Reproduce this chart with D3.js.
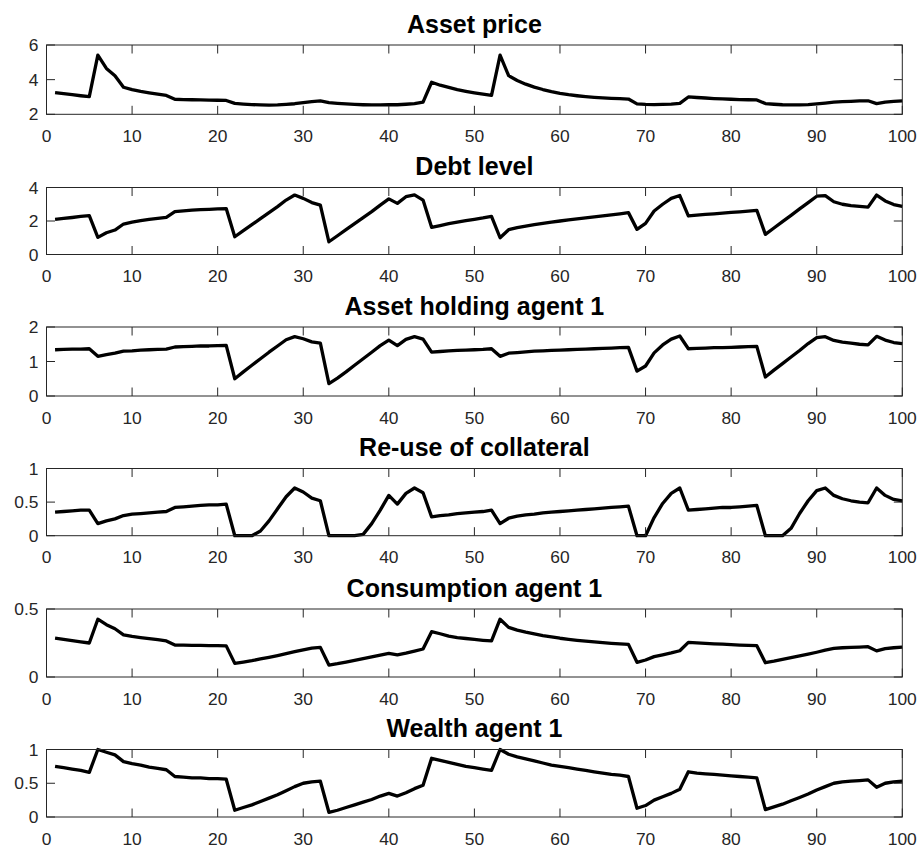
<!DOCTYPE html>
<html><head><meta charset="utf-8">
<script src="https://cdn.jsdelivr.net/npm/d3@7"></script>
<style>body{margin:0;background:#fff}</style>
</head><body>
<svg id="c" width="921" height="848"></svg>
<script>
const periods = d3.range(1, 101);
const titles = ["Asset price", "Debt level", "Asset holding agent 1", "Re-use of collateral", "Consumption agent 1", "Wealth agent 1"];
const xTicks = [0,10,20,30,40,50,60,70,80,90,100];
const yDomains = [[2,6],[0,4],[0,2],[0,1],[0,0.5],[0,1]];
const yTicks = [[2,4,6],[0,2,4],[0,1,2],[0,0.5,1],[0,0.5],[0,0.5,1]];

const assetPrice = [3.25,3.19,3.13,3.07,3.02,5.42,4.65,4.23,3.56,3.42,
3.32,3.24,3.16,3.09,2.87,2.85,2.84,2.83,2.82,2.81,
2.80,2.63,2.59,2.56,2.54,2.53,2.54,2.57,2.61,2.67,
2.73,2.77,2.67,2.63,2.60,2.57,2.55,2.54,2.54,2.56,
2.55,2.58,2.62,2.70,3.85,3.68,3.55,3.43,3.33,3.24,
3.16,3.09,5.42,4.23,3.95,3.74,3.57,3.43,3.31,3.21,
3.13,3.07,3.02,2.98,2.95,2.92,2.90,2.88,2.60,2.57,
2.56,2.57,2.59,2.63,3.00,2.97,2.94,2.91,2.89,2.87,
2.85,2.84,2.83,2.62,2.58,2.55,2.54,2.54,2.56,2.60,
2.65,2.70,2.73,2.75,2.77,2.78,2.62,2.70,2.74,2.77];

const debtLevel = [2.10,2.16,2.21,2.27,2.32,1.02,1.30,1.46,1.82,1.93,
2.02,2.10,2.16,2.22,2.56,2.61,2.65,2.68,2.70,2.72,
2.74,1.06,1.42,1.78,2.14,2.50,2.86,3.25,3.55,3.35,
3.10,2.95,0.76,1.12,1.48,1.84,2.20,2.56,2.95,3.32,
3.05,3.45,3.56,3.25,1.62,1.73,1.84,1.93,2.02,2.10,
2.18,2.28,1.00,1.48,1.60,1.70,1.78,1.86,1.93,2.00,
2.07,2.13,2.19,2.25,2.31,2.37,2.43,2.50,1.50,1.86,
2.60,3.00,3.35,3.52,2.30,2.35,2.39,2.43,2.47,2.51,
2.55,2.59,2.64,1.20,1.58,1.96,2.34,2.72,3.10,3.48,
3.52,3.15,3.00,2.92,2.87,2.83,3.55,3.20,2.98,2.87];

const assetHolding = [1.34,1.35,1.36,1.36,1.37,1.15,1.20,1.24,1.30,1.31,
1.33,1.34,1.35,1.36,1.42,1.43,1.44,1.45,1.45,1.46,
1.47,0.50,0.70,0.89,1.08,1.27,1.45,1.63,1.72,1.66,
1.57,1.53,0.36,0.52,0.70,0.89,1.08,1.27,1.46,1.62,
1.46,1.64,1.72,1.65,1.27,1.29,1.31,1.32,1.33,1.34,
1.35,1.37,1.15,1.24,1.26,1.28,1.30,1.31,1.32,1.33,
1.34,1.35,1.36,1.37,1.38,1.39,1.40,1.41,0.72,0.87,
1.25,1.48,1.65,1.74,1.37,1.38,1.39,1.40,1.40,1.41,
1.42,1.43,1.44,0.55,0.75,0.94,1.13,1.32,1.52,1.69,
1.72,1.61,1.56,1.53,1.50,1.48,1.73,1.62,1.55,1.52];

const reuse = [0.35,0.36,0.37,0.38,0.38,0.18,0.22,0.25,0.30,0.32,
0.33,0.34,0.35,0.36,0.42,0.43,0.44,0.45,0.46,0.46,
0.47,0.00,0.00,0.00,0.07,0.22,0.40,0.58,0.71,0.65,
0.56,0.52,0.00,0.00,0.00,0.00,0.02,0.18,0.38,0.60,
0.47,0.63,0.71,0.64,0.28,0.30,0.31,0.33,0.34,0.35,
0.36,0.38,0.18,0.26,0.29,0.31,0.32,0.34,0.35,0.36,
0.37,0.38,0.39,0.40,0.41,0.42,0.43,0.44,0.00,0.00,
0.27,0.48,0.63,0.71,0.38,0.39,0.40,0.41,0.42,0.42,
0.43,0.44,0.45,0.00,0.00,0.00,0.11,0.33,0.52,0.67,
0.71,0.60,0.55,0.52,0.50,0.49,0.71,0.60,0.54,0.52];

const consumption = [0.285,0.276,0.268,0.259,0.250,0.425,0.385,0.355,0.310,0.298,
0.290,0.282,0.274,0.265,0.235,0.234,0.233,0.232,0.231,0.230,
0.229,0.100,0.110,0.120,0.133,0.145,0.158,0.172,0.186,0.200,
0.213,0.218,0.088,0.098,0.110,0.122,0.135,0.148,0.161,0.174,
0.162,0.175,0.190,0.206,0.333,0.318,0.300,0.290,0.283,0.276,
0.270,0.265,0.425,0.365,0.345,0.330,0.317,0.305,0.295,0.285,
0.277,0.270,0.264,0.258,0.253,0.248,0.244,0.240,0.108,0.125,
0.150,0.163,0.177,0.193,0.255,0.251,0.247,0.244,0.241,0.238,
0.235,0.232,0.230,0.105,0.116,0.129,0.142,0.155,0.168,0.182,
0.197,0.210,0.215,0.218,0.220,0.223,0.192,0.208,0.215,0.220];

const wealth = [0.75,0.73,0.71,0.69,0.66,1.00,0.96,0.92,0.82,0.79,
0.77,0.74,0.72,0.70,0.60,0.59,0.58,0.58,0.57,0.57,
0.56,0.10,0.14,0.18,0.23,0.28,0.33,0.39,0.45,0.50,
0.52,0.53,0.07,0.10,0.14,0.18,0.22,0.26,0.31,0.35,
0.31,0.36,0.42,0.47,0.87,0.84,0.81,0.78,0.75,0.73,
0.71,0.69,1.00,0.93,0.89,0.86,0.83,0.80,0.77,0.75,
0.73,0.71,0.69,0.67,0.65,0.63,0.62,0.60,0.13,0.17,
0.25,0.30,0.35,0.41,0.67,0.65,0.64,0.63,0.62,0.61,
0.60,0.59,0.58,0.11,0.15,0.19,0.24,0.29,0.34,0.40,
0.45,0.50,0.52,0.53,0.54,0.55,0.44,0.50,0.52,0.53];

const series = [assetPrice, debtLevel, assetHolding, reuse, consumption, wealth];

// layout
const left = 46.5, right = 902.3;
const tops = [45, 187.5, 327, 468.5, 609, 749.5];
const bottoms = [114.3, 254.5, 396, 535.7, 677, 817];
const axisColor = "#262626";
const font = "'Liberation Sans', Arial, Helvetica, sans-serif";
const tickLen = 8.5;

const svg = d3.select("#c");
const x = d3.scaleLinear().domain([0, 100]).range([left, right]);

series.forEach((vals, i) => {
  const top = tops[i], bottom = bottoms[i];
  const y = d3.scaleLinear().domain(yDomains[i]).range([bottom, top]);
  const g = svg.append("g");

  g.append("text")
    .attr("x", (left + right) / 2).attr("y", top - 12.5)
    .attr("text-anchor", "middle")
    .attr("font-family", font).attr("font-weight", "bold")
    .attr("font-size", 25).attr("fill", "#000")
    .text(titles[i]);

  const line = d3.line().x((d, k) => x(periods[k])).y(d => y(d));
  g.append("path").datum(vals)
    .attr("d", line)
    .attr("fill", "none").attr("stroke", "#000")
    .attr("stroke-width", 3.3).attr("stroke-linejoin", "round");

  g.append("rect")
    .attr("x", left).attr("y", top)
    .attr("width", right - left).attr("height", bottom - top)
    .attr("fill", "none").attr("stroke", axisColor).attr("stroke-width", 1);

  xTicks.forEach(v => {
    const px = x(v);
    g.append("line").attr("x1", px).attr("x2", px).attr("y1", bottom).attr("y2", bottom - tickLen)
      .attr("stroke", axisColor).attr("stroke-width", 1);
    g.append("line").attr("x1", px).attr("x2", px).attr("y1", top).attr("y2", top + tickLen)
      .attr("stroke", axisColor).attr("stroke-width", 1);
    g.append("text").attr("x", px).attr("y", bottom + 27.5)
      .attr("text-anchor", "middle").attr("font-family", font)
      .attr("font-size", 17.4).attr("fill", axisColor).text(v);
  });

  yTicks[i].forEach(v => {
    const py = y(v);
    g.append("line").attr("x1", left).attr("x2", left + tickLen).attr("y1", py).attr("y2", py)
      .attr("stroke", axisColor).attr("stroke-width", 1);
    g.append("line").attr("x1", right).attr("x2", right - tickLen).attr("y1", py).attr("y2", py)
      .attr("stroke", axisColor).attr("stroke-width", 1);
    g.append("text").attr("x", left - 8).attr("y", py + 6)
      .attr("text-anchor", "end").attr("font-family", font)
      .attr("font-size", 17.4).attr("fill", axisColor).text(v);
  });
});
</script>
</body></html>
